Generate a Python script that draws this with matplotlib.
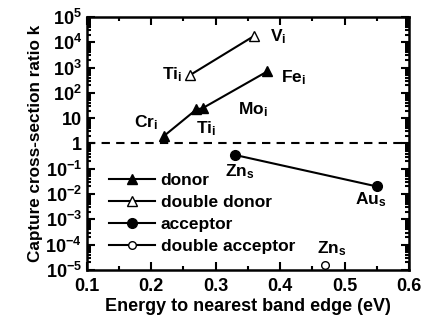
import matplotlib
matplotlib.use("Agg")
import matplotlib.pyplot as plt
from matplotlib.ticker import LogLocator, MultipleLocator, NullFormatter

plt.rcParams['font.family'] = ['Liberation Sans', 'DejaVu Sans']
plt.rcParams['font.weight'] = 'bold'
plt.rcParams['mathtext.default'] = 'regular'

# data
donor_e = [0.22, 0.27, 0.28, 0.38]
donor_k = [2, 22, 25, 700]
ddonor_e = [0.26, 0.36]
ddonor_k = [500, 18000]
acc_e = [0.33, 0.55]
acc_k = [0.35, 0.02]
dacc_e = [0.47]
dacc_k = [1.6e-5]

fig = plt.figure(figsize=(4.3, 3.26), dpi=100)
ax = fig.add_axes([0.202, 0.172, 0.749, 0.776])

ax.plot(donor_e, donor_k, 'k-^', ms=7, lw=1.5, label='donor')
ax.plot(ddonor_e, ddonor_k, 'k-^', ms=7, lw=1.5, mfc='white', label='double donor')
ax.plot(acc_e, acc_k, 'k-o', ms=7, lw=1.5, label='acceptor')
ax.plot(dacc_e, dacc_k, 'k-o', ms=5.5, lw=1.5, mfc='white', label='double acceptor')
ax.axhline(1, color='k', ls=(0, (4, 3)), lw=1.5)

ax.set_yscale('log')
ax.set_xlim(0.1, 0.6)
ax.set_ylim(1e-5, 1e5)
ax.xaxis.set_major_locator(MultipleLocator(0.1))
ax.xaxis.set_minor_locator(MultipleLocator(0.05))
ax.yaxis.set_minor_locator(LogLocator(base=10, subs=range(2, 10), numticks=20))
ax.yaxis.set_minor_formatter(NullFormatter())
ylabels = {1e5: '$10^5$', 1e4: '$10^4$', 1e3: '$10^3$', 1e2: '$10^2$', 10: '10', 1: '1',
           1e-1: '$10^{-1}$', 1e-2: '$10^{-2}$', 1e-3: '$10^{-3}$', 1e-4: '$10^{-4}$', 1e-5: '$10^{-5}$'}
ax.set_yticks(list(ylabels.keys()))
ax.set_yticklabels(list(ylabels.values()))
ax.tick_params(which='both', direction='in', top=True, right=True, labelsize=13, width=1.5)
ax.tick_params(which='major', length=6)
ax.tick_params(which='minor', length=3)
ax.tick_params(axis='x', pad=6)
for s in ax.spines.values():
    s.set_linewidth(1.8)

ax.set_xlabel('Energy to nearest band edge (eV)', fontsize=13, fontweight='bold', labelpad=2)
ax.set_ylabel('Capture cross-section ratio k', fontsize=12.3, fontweight='bold', labelpad=2)

kw = dict(fontsize=12.5, fontweight='bold')
ax.text(0.385, 16000, 'V$_i$', ha='left', va='center', **kw)
ax.text(0.248, 510, 'Ti$_i$', ha='right', va='center', **kw)
ax.text(0.402, 400, 'Fe$_i$', ha='left', va='center', **kw)
ax.text(0.335, 22, 'Mo$_i$', ha='left', va='center', **kw)
ax.text(0.285, 4, 'Ti$_i$', ha='center', va='center', **kw)
ax.text(0.21, 6.5, 'Cr$_i$', ha='right', va='center', **kw)
ax.text(0.338, 0.075, 'Zn$_s$', ha='center', va='center', **kw)
ax.text(0.54, 0.006, 'Au$_s$', ha='center', va='center', **kw)
ax.text(0.48, 7e-5, 'Zn$_s$', ha='center', va='center', **kw)

ax.legend(loc='upper left', bbox_to_anchor=(0.07, 0.385), frameon=False, fontsize=12.5,
          handlelength=2.6, handletextpad=0.35, labelspacing=0.4, borderaxespad=0, borderpad=0)

fig.savefig('out.png', dpi=100)
